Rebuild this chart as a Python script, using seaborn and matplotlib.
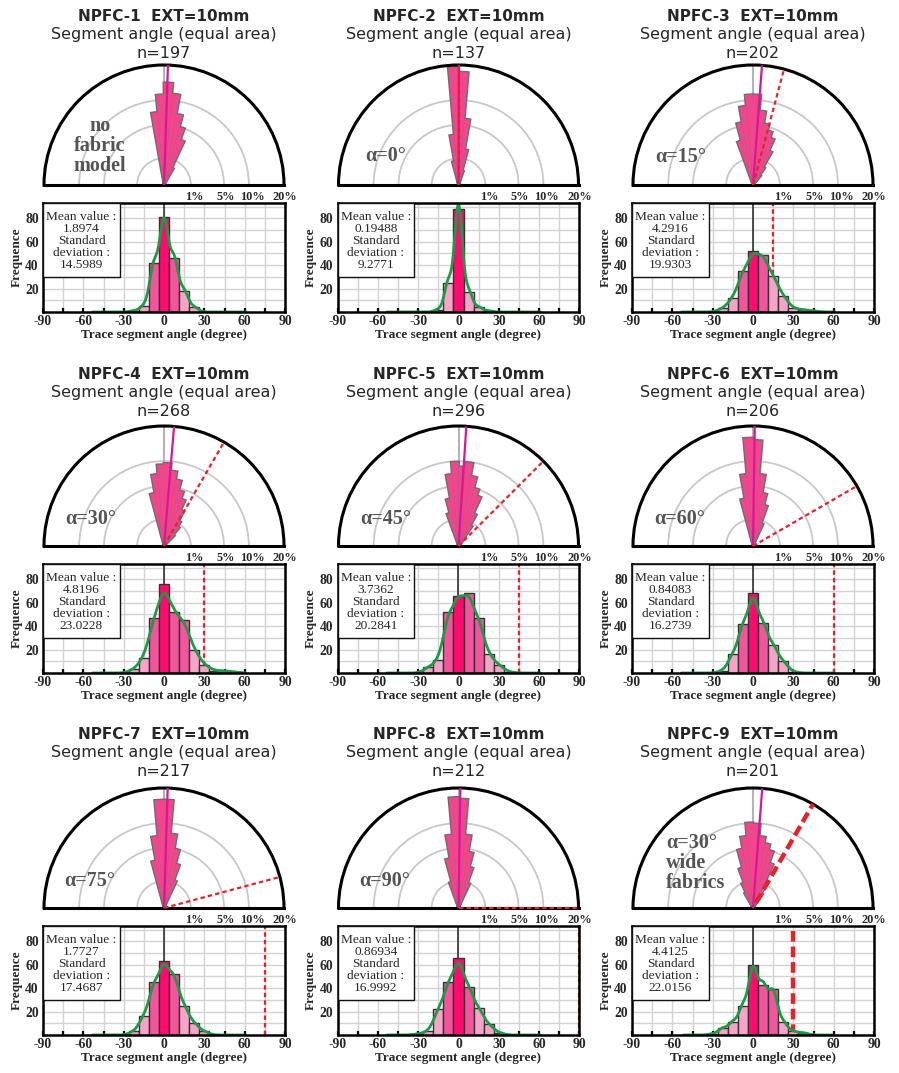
import numpy as np
import pandas as pd
import matplotlib
matplotlib.use("Agg")
import matplotlib.pyplot as plt
from matplotlib.patches import Rectangle
import seaborn as sns

sns.set_theme(style="white")
plt.rcParams["font.family"] = ["Liberation Serif", "DejaVu Serif"]
plt.rcParams["axes.unicode_minus"] = False

# ---------------------------------------------------------------- data
samples = ["NPFC-1", "NPFC-2", "NPFC-3", "NPFC-4", "NPFC-5",
           "NPFC-6", "NPFC-7", "NPFC-8", "NPFC-9"]
n_traces = [197, 137, 202, 268, 296, 206, 217, 212, 201]
fabric_angle = [None, 0, 15, 30, 45, 60, 75, 90, 30]
fabric_note = ["no\nfabric\nmodel", "α=0°", "α=15°", "α=30°", "α=45°",
               "α=60°", "α=75°", "α=90°", "α=30°\nwide\nfabrics"]
mean_angle = [1.8974, 0.19488, 4.2916, 4.8196, 3.7362,
              0.84083, 1.7727, 0.86934, 4.4125]
std_angle = [14.5989, 9.2771, 19.9303, 23.0228, 20.2841,
             16.2739, 17.4687, 16.9992, 22.0156]

# histogram of trace segment angles (7.5 degree classes)
hist_centres = [-45, -37.5, -30, -22.5, -15, -7.5, 0, 7.5, 15, 22.5, 30, 37.5, 45, 52.5]
hist_npfc1 = [0, 0, 0, 1, 5, 42, 81, 46, 18, 4, 0, 0, 0, 0]
hist_npfc2 = [0, 0, 0, 0, 2, 25, 88, 17, 4, 1, 0, 0, 0, 0]
hist_npfc3 = [0, 0, 0, 3, 12, 35, 52, 49, 31, 14, 3, 2, 1, 0]
hist_npfc4 = [0, 0, 0, 3, 13, 47, 76, 52, 45, 20, 7, 2, 2, 1]
hist_npfc5 = [0, 0, 0, 5, 11, 52, 66, 68, 47, 16, 7, 1, 0, 0]
hist_npfc6 = [0, 0, 0, 2, 16, 42, 68, 43, 24, 10, 1, 0, 0, 0]
hist_npfc7 = [0, 0, 0, 3, 16, 45, 63, 52, 25, 10, 3, 0, 0, 0]
hist_npfc8 = [0, 0, 1, 3, 22, 45, 66, 41, 23, 9, 2, 0, 0, 0]
hist_npfc9 = [0, 0, 1, 6, 11, 25, 60, 43, 39, 11, 3, 2, 0, 0]
hist_counts = [hist_npfc1, hist_npfc2, hist_npfc3, hist_npfc4, hist_npfc5,
               hist_npfc6, hist_npfc7, hist_npfc8, hist_npfc9]

# rose diagram, percent of segments per 5 degree sector
rose_centres = [-37.5, -32.5, -27.5, -22.5, -17.5, -12.5, -7.5, -2.5, 2.5,
                7.5, 12.5, 17.5, 22.5, 27.5, 32.5, 37.5, 42.5]
rose_npfc1 = [0, 0, 0, 0, 0, 0, 7.4, 11.3, 14.5, 11.6, 7.2, 5.0, 3.2, 0.5, 0, 0, 0]
rose_npfc2 = [0, 0, 0, 0, 0, 0.8, 3.5, 19.2, 17.7, 6.1, 1.8, 0.3, 0, 0, 0, 0, 0]
rose_npfc3 = [0, 0, 0, 0, 2.9, 5.6, 8.7, 11.3, 11.3, 7.7, 5.4, 4.4, 3.5, 2.0, 0.6, 0.2, 0]
rose_npfc4 = [0, 0, 0, 0, 0, 4.0, 7.2, 9.2, 9.5, 7.9, 6.3, 4.6, 3.5, 2.2, 1.2, 0.8, 0.3]
rose_npfc5 = [0, 0, 0, 0, 1.6, 3.2, 7.2, 9.8, 8.7, 9.8, 7.0, 5.0, 4.0, 1.8, 0.8, 0.1, 0]
rose_npfc6 = [0, 0, 0, 0, 0, 3.2, 7.2, 16.2, 15.5, 7.2, 4.0, 2.5, 0.8, 0, 0, 0, 0]
rose_npfc7 = [0, 0, 0, 0, 0, 3.2, 7.2, 16.2, 16.2, 7.7, 5.0, 2.9, 1.2, 0, 0, 0, 0]
rose_npfc8 = [0, 0, 0, 0, 1.0, 3.5, 7.5, 17.0, 16.5, 7.5, 4.5, 2.5, 1.0, 0, 0, 0, 0]
rose_npfc9 = [0, 0, 0.4, 1.0, 2.4, 5.0, 7.2, 10.1, 9.8, 7.2, 6.0, 5.0, 3.2, 1.2, 0.4, 0, 0]
rose_pct = [rose_npfc1, rose_npfc2, rose_npfc3, rose_npfc4, rose_npfc5,
            rose_npfc6, rose_npfc7, rose_npfc8, rose_npfc9]
rose_rings = [1, 5, 10, 20]

# ---------------------------------------------------------------- style
PETAL = "#F0468C"
PETAL_EDGE = "#6E6E6E"
MEAN_LINE = "#DC1496"
RED = "#E8202A"
GREEN = "#1E9A46"
VIVID, MEDIUM, LIGHT = "#FF0A6E", "#F2559B", "#F5A3C6"
NOTE_GREY = "#545454"
BIN_W = 7.5
KDE_BW = [0.45, 0.45, 0.45, 0.45, 0.45, 0.45, 0.45, 0.45, 0.36]

W, H = 899, 1073
fig = plt.figure(figsize=(W / 100, H / 100), dpi=100)
fig.patch.set_facecolor("white")


def fx(x):
    return x / W


def fy(y):
    return 1 - y / H


COL_X0 = [0, 294.5, 589]
ROW_Y0 = [0, 361, 723]
TITLE_Y0 = [0, 358, 718]
R = 120
# placement of the note inside each rose (dx, dy from the rose centre, alignment)
NOTE_POS = [(-64, -39, "center"), (-73, -29, "center"), (-72, -28, "center"),
            (-73, -27, "center"), (-73, -27, "center"), (-73, -27, "center"),
            (-74, -27, "center"), (-74, -27, "center"), (-87, -45, "left")]
# small horizontal nudges of the ring labels (points)
RING_LABEL_DX = [2.5, 1.2, 2.5, 0.8]


def sqrt_fwd(r):
    return np.sqrt(np.clip(r, 0, None))


def sqrt_inv(r):
    return np.square(r)


for i in range(9):
    row, col = divmod(i, 3)
    ox, oy = COL_X0[col], ROW_Y0[row]
    ty = TITLE_Y0[row]
    cx, cy = 164 + ox, 185 + oy

    # header lines
    fig.text(fx(cx), fy(20.7 + ty), f"{samples[i]}  EXT=10mm", ha="center",
             va="baseline", fontsize=11, fontweight="bold", family="DejaVu Sans")
    fig.text(fx(cx), fy(39.3 + ty), "Segment angle (equal area)", ha="center",
             va="baseline", fontsize=11.5, family="DejaVu Sans")
    fig.text(fx(cx), fy(58.3 + ty), f"n={n_traces[i]}", ha="center",
             va="baseline", fontsize=11.5, family="DejaVu Sans")

    # ------------------------------------------------ equal-area half rose
    # square box; the half disc is centred in it
    pax = fig.add_axes([fx(cx - R), fy(cy + R / 2), 2 * R / W, 2 * R / H],
                       projection="polar")
    pax.set_theta_zero_location("N")
    pax.set_theta_direction(-1)
    pax.set_thetamin(-90)
    pax.set_thetamax(90)
    pax.set_rscale("function", functions=(sqrt_fwd, sqrt_inv))
    pax.set_rlim(0, 20)
    pax.set_xticks([])
    pax.set_rticks(rose_rings[:-1])
    pax.set_yticklabels([])
    pax.xaxis.grid(False)
    pax.yaxis.grid(True, color="#C8C8C8", lw=1.3)
    for name in ("polar", "start", "end"):
        pax.spines[name].set_linewidth(2.2)
        pax.spines[name].set_color("black")
    pax.spines["inner"].set_visible(False)

    theta = np.deg2rad(rose_centres)
    pax.plot([0, 0], [0, 20], color="#B4B4B4", lw=1.5, zorder=1)
    pax.bar(theta, rose_pct[i], width=np.deg2rad(5), bottom=0, color=PETAL,
            edgecolor=PETAL_EDGE, linewidth=2.0, zorder=2)
    pax.bar(theta, rose_pct[i], width=np.deg2rad(5), bottom=0, color=PETAL,
            linewidth=0, zorder=2.1)
    mrad = np.deg2rad(mean_angle[i])
    pax.plot([mrad, mrad], [0, 20], color=MEAN_LINE, lw=1.6, zorder=3)
    if fabric_angle[i] is not None:
        arad = np.deg2rad(fabric_angle[i])
        if i == 8:
            pax.plot([arad, arad], [0.05, 20], color=RED, lw=3.2,
                     ls=(0, (2.4, 1.1)), zorder=4, clip_on=False)
        else:
            pax.plot([arad, arad], [0, 20], color=RED, lw=1.6,
                     ls=(0, (2.0, 1.4)), zorder=4, clip_on=False)
    for ring, ddx in zip(rose_rings, RING_LABEL_DX):
        pax.annotate(f"{ring}%", xy=(np.pi / 2, ring), xytext=(ddx, -4),
                     textcoords="offset points", ha="center", va="top",
                     fontsize=8.8, fontweight="bold", annotation_clip=False)

    ndx, ndy, nha = NOTE_POS[i]
    fig.text(fx(cx + ndx), fy(cy + ndy), fabric_note[i], ha=nha, va="center",
             multialignment=nha, fontsize=14.5, fontweight="bold",
             color=NOTE_GREY, linespacing=1.0)

    # ------------------------------------------------ histogram
    hax = fig.add_axes([fx(43 + ox), fy(312 + oy), 242 / W, 109 / H])
    df = pd.DataFrame({"angle": hist_centres, "count": hist_counts[i]})
    sns.histplot(data=df, x="angle", weights="count", binwidth=BIN_W,
                 binrange=(-48.75, 56.25), kde=True, ax=hax,
                 kde_kws={"bw_adjust": KDE_BW[i], "cut": 1},
                 line_kws={"lw": 2.0},
                 edgecolor="#333333", linewidth=1.0, alpha=1)
    for p in hax.patches:
        centre = p.get_x() + p.get_width() / 2
        h = p.get_height()
        if abs(centre) < BIN_W / 2:
            p.set_facecolor(VIVID)
        elif h >= 34:
            p.set_facecolor(MEDIUM)
        else:
            p.set_facecolor(LIGHT)
        p.set_zorder(2)
    for ln in hax.lines:
        ln.set_color(GREEN)
        ln.set_zorder(2.4)

    hax.set_xlim(-90, 90)
    hax.set_ylim(0, 93)
    hax.set_xticks(range(-90, 91, 30))
    hax.set_xticks(range(-75, 90, 30), minor=True)
    hax.set_yticks([20, 40, 60, 80])
    hax.set_yticks([10, 30, 50, 70, 90], minor=True)
    hax.grid(which="both", color="#D2D2D2", lw=1.0)
    hax.set_axisbelow(True)
    hax.tick_params(axis="x", which="both", direction="in", bottom=True,
                    length=3, width=1.6, color="black", pad=2,
                    labelsize=9.8)
    hax.tick_params(axis="y", which="both", left=False, length=0, pad=3,
                    labelsize=9.8)
    for lab in hax.get_xticklabels() + hax.get_yticklabels():
        lab.set_fontweight("bold")
    for s in hax.spines.values():
        s.set_color("black")
        s.set_linewidth(1.8)
        s.set_zorder(2.5)

    if fabric_angle[i] is not None:
        if i == 8:
            hax.axvline(fabric_angle[i], color=RED, lw=3.2, ls=(0, (2.4, 1.1)),
                        zorder=1.6, clip_on=False)
        else:
            hax.axvline(fabric_angle[i], color=RED, lw=1.6, ls=(0, (2.0, 1.4)),
                        zorder=1.6, clip_on=False)
    hax.axvline(0, color="#222222", lw=1.1, zorder=1.7)

    hax.add_patch(Rectangle((0, 0.32), 0.318, 0.68, transform=hax.transAxes,
                            facecolor="white", edgecolor="#111111", lw=1.0,
                            zorder=5, clip_on=False))
    hax.text(0.159, 0.655,
             f"Mean value :\n{mean_angle[i]}\nStandard\ndeviation :\n{std_angle[i]}",
             transform=hax.transAxes, ha="center", va="center",
             fontsize=9.6, linespacing=1.0, zorder=6)

    hax.set_ylabel("Frequence", fontsize=9.5, fontweight="bold", labelpad=2)
    hax.set_xlabel("Trace segment angle (degree)", fontsize=9.5,
                   fontweight="bold", labelpad=1)

fig.savefig("out.png", dpi=100, facecolor="white")
